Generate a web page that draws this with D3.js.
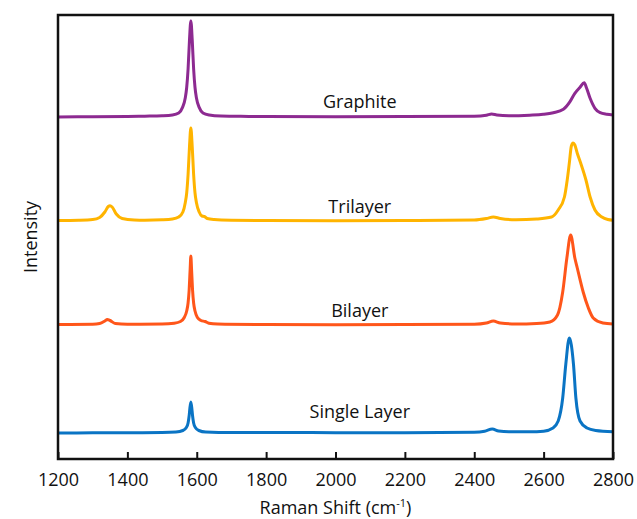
<!DOCTYPE html>
<html>
<head>
<meta charset="utf-8">
<script src="https://cdn.jsdelivr.net/npm/d3@7"></script>
<style>
  body { margin: 0; background: #fff; }
  text { font-family: "Open Sans", "Noto Sans", sans-serif; fill: #111; }
</style>
</head>
<body>
<div id="chart"></div>
<script>
// chart size and margins
const width = 637
const height = 519
const margin = { top: 15, right: 24, bottom: 60, left: 58 }

// spectra: [wavenumber (cm-1), intensity above own baseline (a.u.)]
const series_names = ['Single Layer', 'Bilayer', 'Trilayer', 'Graphite']
const series_colors = ['#0a74c4', '#ff561a', '#ffb400', '#8d2a91']
const series_offsets = [26, 134, 238, 342]
const label_heights = [15, 8, 8, 9]

const single_layer = [
  [1200, 0], [1300, 0.2], [1400, 0.3], [1500, 0.5], [1540, 1.0], [1560, 2.5],
  [1570, 5.5], [1575, 10], [1578, 17], [1580, 24], [1583, 31], [1586, 24],
  [1588, 17], [1591, 10], [1596, 5.5], [1606, 2.5], [1626, 1.0], [1700, 0.5],
  [1860, 0.6], [2000, 0.3], [2200, 0.3], [2400, 0.8], [2430, 1.8], [2452, 4],
  [2470, 2], [2500, 1.2], [2560, 1.2], [2600, 1.8], [2627, 5], [2642, 12],
  [2655, 35], [2664, 69], [2674, 95], [2686, 69], [2693, 35], [2705, 12],
  [2725, 5], [2750, 2.5], [2800, 1.3]
]

const bilayer = [
  [1200, 0.5], [1300, 0.8], [1320, 1.5], [1335, 4], [1342, 5.5], [1350, 4.5],
  [1365, 1.5], [1400, 0.8], [1500, 1], [1535, 1.8], [1553, 3.5], [1564, 7.5],
  [1571, 14], [1575, 22], [1578, 34.5], [1581, 56], [1583, 69], [1585, 56],
  [1588, 34.5], [1591, 22], [1595, 14], [1602, 7.5], [1612, 4.5], [1624, 3.5],
  [1635, 1.8], [1660, 1], [1800, 0.5], [2000, 0.3], [2200, 0.4], [2400, 0.8],
  [2435, 2], [2455, 4], [2475, 2], [2520, 1], [2580, 1.5], [2618, 3],
  [2640, 10], [2655, 33], [2667, 67], [2678, 90], [2690, 67], [2697, 57],
  [2714, 33], [2729, 17], [2743, 7], [2771, 2], [2800, 1]
]

const trilayer = [
  [1200, 0.5], [1260, 0.8], [1300, 1.5], [1320, 3.5], [1335, 9], [1345, 14.5],
  [1350, 15.3], [1356, 14], [1368, 7], [1385, 2.5], [1420, 1], [1450, 0.8],
  [1500, 1.2], [1530, 2], [1548, 4], [1560, 9], [1567, 18.6], [1571, 28],
  [1575, 46.5], [1579, 74], [1583, 93], [1587, 74], [1591, 46.5], [1595, 28],
  [1599, 18.6], [1607, 9], [1615, 5], [1622, 4.5], [1630, 2.5], [1650, 1.5],
  [1700, 0.8], [1800, 0.5], [2000, 0.3], [2200, 0.5], [2400, 1], [2435, 2.5],
  [2455, 4], [2475, 2.5], [2520, 1.2], [2580, 2], [2623, 4], [2642, 11],
  [2660, 24], [2668, 41], [2674, 57.7], [2680, 75], [2685, 78], [2690, 76],
  [2697, 67.7], [2707, 57.7], [2722, 41], [2734, 24], [2748, 11], [2768, 4],
  [2785, 1.5], [2800, 0.8]
]

const graphite = [
  [1200, 0], [1300, 0.3], [1400, 0.5], [1450, 0.8], [1500, 1.2], [1530, 2.0],
  [1548, 4.0], [1559, 9.6], [1567, 19.2], [1571, 29.5], [1575, 48], [1579, 76.8],
  [1583, 96], [1587, 76.8], [1591, 48], [1595, 29.5], [1599, 19.2], [1607, 9.6],
  [1618, 4.0], [1636, 2.0], [1670, 1.0], [1750, 0.6], [1800, 0.4], [2000, 0.3],
  [2200, 0.4], [2400, 0.8], [2435, 1.8], [2450, 3], [2465, 2], [2500, 1.2],
  [2560, 1.8], [2599, 2.7], [2628, 4.3], [2657, 7.7], [2676, 15.3], [2690, 23.7],
  [2705, 29.7], [2717, 34.3], [2724, 28.7], [2734, 18.7], [2748, 8.7], [2763, 4.3],
  [2782, 2.7], [2800, 2]
]

const spectra = [single_layer, bilayer, trilayer, graphite]
const x_ticks = [1200, 1400, 1600, 1800, 2000, 2200, 2400, 2600, 2800]
const label_position = 2070

const svg = d3.select('#chart')
  .append('svg')
  .attr('width', width)
  .attr('height', height)

const x = d3.scaleLinear()
  .domain([1200, 2800])
  .range([margin.left, width - margin.right])

const y = d3.scaleLinear()
  .domain([0, 444])
  .range([height - margin.bottom, margin.top])

svg.append('clipPath')
  .attr('id', 'plot-clip')
  .append('rect')
  .attr('x', margin.left)
  .attr('y', margin.top)
  .attr('width', width - margin.left - margin.right)
  .attr('height', height - margin.top - margin.bottom)

const line = d3.line()
  .x(d => x(d[0]))
  .y(d => y(d[1]))
  .curve(d3.curveMonotoneX)

// spectra lines
svg.append('g')
  .attr('clip-path', 'url(#plot-clip)')
  .selectAll('path')
  .data(spectra)
  .enter()
  .append('path')
  .attr('d', (d, i) => line(d.map(p => [p[0], p[1] + series_offsets[i]])))
  .attr('fill', 'none')
  .attr('stroke', (d, i) => series_colors[i])
  .attr('stroke-width', 3)
  .attr('stroke-linejoin', 'round')

// series labels
svg.append('g')
  .selectAll('text')
  .data(series_names)
  .enter()
  .append('text')
  .attr('x', x(label_position))
  .attr('y', (d, i) => y(series_offsets[i] + label_heights[i]))
  .attr('text-anchor', 'middle')
  .attr('font-size', '18px')
  .text(d => d)

// bottom axis with ticks pointing inward
const x_axis = d3.axisBottom(x)
  .tickValues(x_ticks)
  .tickSize(-7)
  .tickPadding(14)
  .tickFormat(d3.format('d'))

const axis_g = svg.append('g')
  .attr('transform', 'translate(0,' + (height - margin.bottom) + ')')
  .call(x_axis)

axis_g.select('.domain').remove()
axis_g.selectAll('line').attr('stroke', '#111').attr('stroke-width', 2)
axis_g.selectAll('text')
  .attr('font-size', '18px')
  .attr('font-family', '"Open Sans", "Noto Sans", sans-serif')
  .attr('fill', '#111')

// frame
svg.append('rect')
  .attr('x', margin.left)
  .attr('y', margin.top)
  .attr('width', width - margin.left - margin.right)
  .attr('height', height - margin.top - margin.bottom)
  .attr('fill', 'none')
  .attr('stroke', '#111')
  .attr('stroke-width', 2.5)

// axis titles
const x_title = svg.append('text')
  .attr('x', (margin.left + width - margin.right) / 2)
  .attr('y', 514)
  .attr('text-anchor', 'middle')
  .attr('font-size', '18px')
x_title.append('tspan').text('Raman Shift (cm')
x_title.append('tspan').attr('font-size', '11px').attr('dy', '-7').text('-1')
x_title.append('tspan').attr('dy', '7').text(')')

svg.append('text')
  .attr('transform', 'translate(37,' + ((margin.top + height - margin.bottom) / 2) + ') rotate(-90)')
  .attr('text-anchor', 'middle')
  .attr('font-size', '18px')
  .text('Intensity')
</script>
</body>
</html>
